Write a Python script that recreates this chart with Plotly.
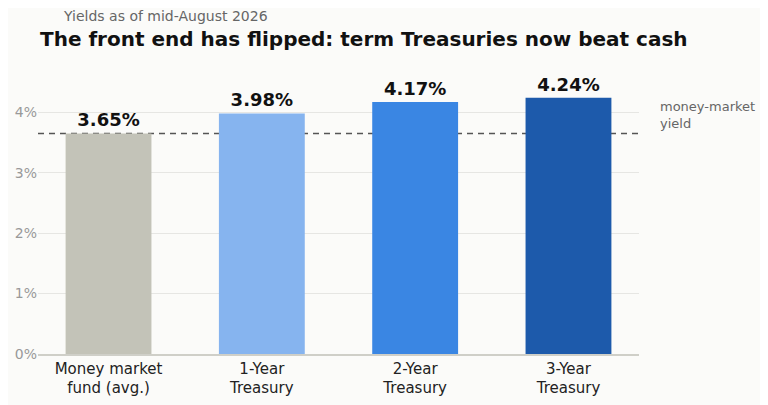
import plotly.graph_objects as go

categories = ["Money market<br>fund (avg.)", "1-Year<br>Treasury", "2-Year<br>Treasury", "3-Year<br>Treasury"]
yields = [3.65, 3.98, 4.17, 4.24]
labels = ["3.65%", "3.98%", "4.17%", "4.24%"]
colors = ["#c3c3b8", "#86b4ef", "#3a86e3", "#1d5aab"]
mmf_yield = 3.65
tick_vals = [0, 1, 2, 3, 4]
tick_text = ["0%", "1%", "2%", "3%", "4%"]
ref_label = "money-market<br>yield"

FONT = "DejaVu Sans"

fig = go.Figure()
fig.add_trace(go.Bar(
    x=list(range(len(categories))), y=yields,
    marker=dict(color=colors, line=dict(width=0)),
    width=0.56,
    text=["<b>" + t + "</b>" for t in labels], textposition="outside",
    textfont=dict(family=FONT, size=18, color="#111111"),
    cliponaxis=False, hoverinfo="skip",
))

fig.add_shape(type="line", xref="paper", x0=0, x1=1, yref="y", y0=mmf_yield, y1=mmf_yield,
              line=dict(color="#555555", width=1.5, dash="6px,5px"), layer="below")

fig.add_annotation(xref="paper", yref="y", x=1.032, y=3.95, text=ref_label,
                   showarrow=False, xanchor="left", yanchor="middle", align="left",
                   font=dict(family=FONT, size=13, color="#666666"))

fig.add_annotation(xref="paper", yref="paper", x=0, y=1.133, text="<b>The front end has flipped: term Treasuries now beat cash</b>",
                   showarrow=False, xanchor="left", yanchor="middle",
                   font=dict(family=FONT, size=20, color="#111111"))
fig.add_annotation(xref="paper", yref="paper", x=0.038, y=1.216, text="Yields as of mid-August 2026",
                   showarrow=False, xanchor="left", yanchor="middle",
                   font=dict(family=FONT, size=14, color="#666666"))

fig.update_layout(
    width=760, height=397,
    margin=dict(l=30, r=129, t=68, b=51),
    paper_bgcolor="#fbfbf9", plot_bgcolor="#fbfbf9",
    showlegend=False, bargap=0.3,
    font=dict(family=FONT),
    xaxis=dict(tickmode="array", tickvals=list(range(len(categories))), ticktext=categories,
               range=[-0.46, 3.46], showgrid=False, zeroline=False, automargin=False,
               showline=True, linecolor="#cfcfc8", linewidth=1.5,
               tickfont=dict(family=FONT, size=15, color="#222222"), ticks=""),
    yaxis=dict(range=[0, 4.6], tickmode="array", tickvals=tick_vals, ticktext=tick_text,
               showgrid=True, gridcolor="#e6e6e3", gridwidth=1, zeroline=False, automargin=False,
               tickfont=dict(family=FONT, size=14, color="#999999"), ticks="", showline=False),
)

fig.write_html("out.html")
